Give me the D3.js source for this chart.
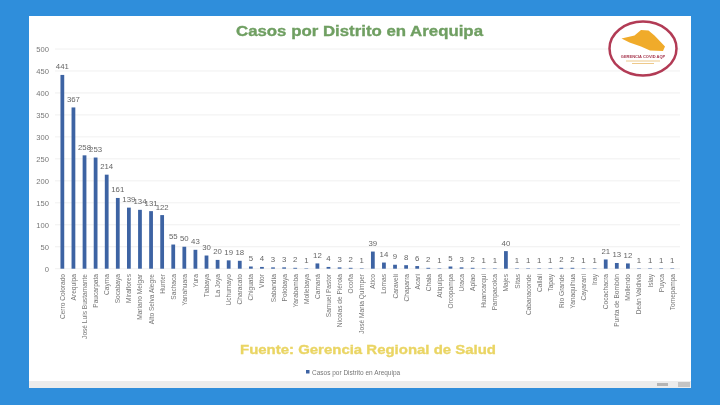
<!DOCTYPE html>
<html>
<head>
<meta charset="utf-8">
<script src="https://cdn.jsdelivr.net/npm/d3@7"></script>
<style>
  html, body { margin: 0; padding: 0; background: #2f8edb; }
  svg { display: block; }
  text { font-family: "Liberation Sans", Arial, sans-serif; }
</style>
</head>
<body>
<div id="chart"></div>
<script>
// Casos por distrito
const districts = [
    'Cerro Colorado', 'Arequipa', 'José Luis Bustamante', 'Paucarpata', 'Cayma', 'Socabaya',
    'Miraflores', 'Mariano Melgar', 'Alto Selva Alegre', 'Hunter', 'Sachaca', 'Yanahuara',
    'Yura', 'Tiabaya', 'La Joya', 'Uchumayo', 'Characato', 'Chiguata', 'Vítor', 'Sabandía',
    'Polobaya', 'Yarabamba', 'Mollebaya', 'Camaná', 'Samuel Pastor', 'Nicolas de Piérola',
    'Ocoña', 'José María Quimper', 'Atico', 'Lomas', 'Caravelí', 'Chaparra', 'Acarí', 'Chala',
    'Atiquipa', 'Orcopampa', 'Uraca', 'Aplao', 'Huancarqui', 'Pampacolca', 'Majes', 'Sitas',
    'Cabanaconde', 'Callali', 'Tapay', 'Río Grande', 'Yanaquihua', 'Cayarani', 'Iray',
    'Cocachacra', 'Punta de Bombón', 'Mollendo', 'Deán Valdivia', 'Islay', 'Puyca', 'Tomepampa'
];
const cases = [
    441, 367, 258, 253, 214, 161, 139, 134, 131, 122, 55, 50, 43, 30, 20, 19, 18, 5, 4, 3,
    3, 2, 1, 12, 4, 3, 2, 1, 39, 14, 9, 8, 6, 2, 1, 5, 3, 2, 1, 1, 40, 1, 1, 1, 1, 2, 2, 1,
    1, 21, 13, 12, 1, 1, 1, 1
];
const yTicks = [0, 50, 100, 150, 200, 250, 300, 350, 400, 450, 500];

const titleText = 'Casos por Distrito en Arequipa';
const sourceText = 'Fuente: Gerencia Regional de Salud';

const width = 720;
const height = 405;
const barColor = '#3d63a3';

const svg = d3.select('#chart')
    .append('svg')
    .attr('width', width)
    .attr('height', height);

svg.append('defs').append('filter')
    .attr('id', 'soft')
    .append('feGaussianBlur')
    .attr('stdDeviation', 0.5);

const root = svg.append('g').attr('filter', 'url(#soft)');

// Slide panel
root.append('rect').attr('x', 29).attr('y', 16).attr('width', 662).attr('height', 372).attr('fill', '#fff');
root.append('rect').attr('x', 29).attr('y', 381).attr('width', 662).attr('height', 7).attr('fill', '#ececec');
root.append('rect').attr('x', 657).attr('y', 383).attr('width', 11).attr('height', 3).attr('fill', '#b5b5b5');
root.append('rect').attr('x', 678).attr('y', 382).attr('width', 12).attr('height', 5).attr('fill', '#c4c4c4');

const x = d3.scaleBand()
    .domain(districts)
    .range([56.8, 677.8])
    .paddingInner(0.66)
    .paddingOuter(0.33);

const y = d3.scaleLinear()
    .domain([0, 500])
    .range([268.7, 49]);

// Gridlines
root.append('g')
    .selectAll('line')
    .data(yTicks)
    .enter().append('line')
    .attr('x1', 55)
    .attr('x2', 680)
    .attr('y1', d => y(d))
    .attr('y2', d => y(d))
    .attr('stroke', '#ececec')
    .attr('stroke-width', 0.8);

// Y axis
const yAxis = d3.axisLeft(y)
    .tickValues(yTicks)
    .tickSize(0)
    .tickPadding(0);

const yAxisG = root.append('g')
    .attr('transform', 'translate(49, 0)')
    .call(yAxis);
yAxisG.select('.domain').remove();
yAxisG.selectAll('text')
    .attr('font-size', '7.6px')
    .attr('font-family', '"Liberation Sans", Arial, sans-serif')
    .attr('fill', '#777');

// Bars
root.append('g')
    .selectAll('rect')
    .data(cases)
    .enter().append('rect')
    .attr('x', (d, i) => x(districts[i]))
    .attr('width', x.bandwidth())
    .attr('y', d => y(d))
    .attr('height', d => y(0) - y(d))
    .attr('fill', barColor);

// Value labels
root.append('g')
    .selectAll('text')
    .data(cases)
    .enter().append('text')
    .attr('x', (d, i) => x(districts[i]) + x.bandwidth() / 2)
    .attr('y', d => y(d) - 5.5)
    .attr('text-anchor', 'middle')
    .attr('font-size', '7.8px')
    .attr('fill', '#666')
    .text(d => d);

// Category labels
root.append('g')
    .selectAll('text')
    .data(districts)
    .enter().append('text')
    .attr('transform', d => `translate(${x(d) + x.bandwidth() / 2 + 2.5}, 274) rotate(-90)`)
    .attr('text-anchor', 'end')
    .attr('font-size', '6.6px')
    .attr('fill', '#777')
    .text(d => d);

// Title and source, both are wider than the font so stretch them
root.append('text')
    .attr('x', 236)
    .attr('y', 35.5)
    .attr('textLength', 247)
    .attr('lengthAdjust', 'spacingAndGlyphs')
    .attr('font-size', '15px')
    .attr('font-weight', 'bold')
    .attr('fill', '#6f9f62')
    .attr('stroke', '#6f9f62')
    .attr('stroke-width', 0.35)
    .text(titleText);

root.append('text')
    .attr('x', 240)
    .attr('y', 354)
    .attr('textLength', 256)
    .attr('lengthAdjust', 'spacingAndGlyphs')
    .attr('font-size', '13.5px')
    .attr('font-weight', 'bold')
    .attr('fill', '#ead564')
    .attr('stroke', '#ead564')
    .attr('stroke-width', 0.35)
    .text(sourceText);

// Legend
root.append('rect').attr('x', 306).attr('y', 370).attr('width', 3.5).attr('height', 3.5).attr('fill', barColor);
root.append('text')
    .attr('x', 312)
    .attr('y', 374.5)
    .attr('font-size', '6.5px')
    .attr('fill', '#777')
    .text(titleText);

// Logo in the top right corner
const logo = root.append('g').attr('transform', 'translate(643, 48.5)');
logo.append('ellipse').attr('rx', 33.5).attr('ry', 27).attr('fill', '#fff').attr('stroke', '#b23a55').attr('stroke-width', 2.5);
logo.append('path')
    .attr('d', 'M-21.5,-10 L-8.5,-13 L-2,-18.5 L5.5,-18 L11.5,-13 L22,-2 L20,2.5 L7,2 L-2,-2 L-13.5,-6 Z')
    .attr('fill', '#f0ab2c');
logo.append('text')
    .attr('y', 9.5)
    .attr('text-anchor', 'middle')
    .attr('font-size', '4px')
    .attr('font-weight', 'bold')
    .attr('fill', '#a5344c')
    .text('GERENCIA COVID AQP');
logo.append('rect').attr('x', -17).attr('y', 12).attr('width', 34).attr('height', 1).attr('fill', '#eec98a');
logo.append('rect').attr('x', -11).attr('y', 14.5).attr('width', 22).attr('height', 1).attr('fill', '#eec98a');
</script>
</body>
</html>
